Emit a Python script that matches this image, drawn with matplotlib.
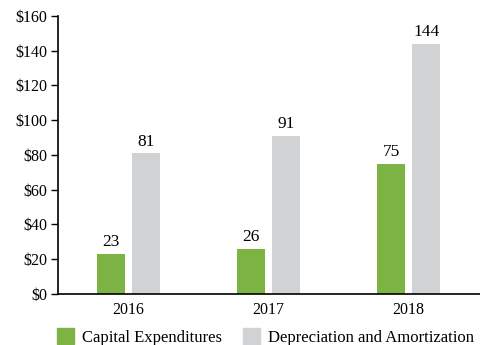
import numpy as np
import matplotlib.pyplot as plt
from matplotlib.patches import Patch

# Données
annees = ['2016', '2017', '2018']
capex = [23, 26, 75]
amort = [81, 91, 144]
yticks = [0, 20, 40, 60, 80, 100, 120, 140, 160]

vert = '#7db343'
gris = '#d1d2d4'

plt.rcParams['font.family'] = ['Liberation Serif', 'DejaVu Serif']

fig = plt.figure(figsize=(4.81, 3.45), dpi=100)
ax = fig.add_axes([0.1206, 0.148, 0.8774, 0.806])

x = np.arange(len(annees))
w = 0.2
b1 = ax.bar(x - 0.125, capex, w, color=vert)
b2 = ax.bar(x + 0.125, amort, w, color=gris)

for rects, vals in ((b1, capex), (b2, amort)):
    for r, v in zip(rects, vals):
        ax.text(r.get_x() + r.get_width() / 2, v + 2, str(v),
                ha='center', va='bottom', fontsize=12.5)

ax.set_xlim(-0.504, 2.51)
ax.set_ylim(0, 160)
ax.set_yticks(yticks)
ax.set_yticklabels(['$%d' % v for v in yticks], fontsize=11.5)
ax.set_xticks(x)
ax.set_xticklabels(annees, fontsize=11.5)
ax.tick_params(axis='x', length=0, pad=6)
ax.tick_params(axis='y', length=5, width=1, pad=3)

for s in ('top', 'right'):
    ax.spines[s].set_visible(False)
for s in ('left', 'bottom'):
    ax.spines[s].set_linewidth(1.2)

handles = [Patch(color=vert, label='Capital Expenditures'),
           Patch(color=gris, label='Depreciation and Amortization')]
fig.legend(handles=handles, loc='lower left', bbox_to_anchor=(0.087, -0.045),
           ncol=2, frameon=False, fontsize=12, handlelength=1.05,
           handleheight=1.05, handletextpad=0.45, columnspacing=1.25)

plt.savefig('out.png', dpi=100)
plt.close()
